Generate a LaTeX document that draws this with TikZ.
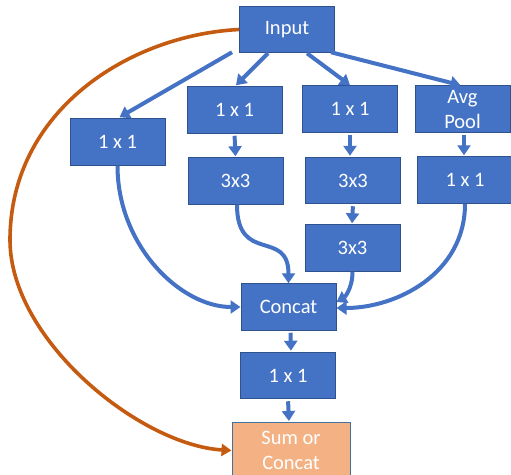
\documentclass[tikz,border=0pt]{standalone}
\usepackage{fontspec}
\setmainfont{Carlito}
\usetikzlibrary{arrows.meta,calc}
\definecolor{boxblue}{HTML}{4472C4}
\definecolor{boxedge}{HTML}{2F528F}
\definecolor{sumfill}{HTML}{F4B183}
\definecolor{sumedge}{HTML}{41719C}
\definecolor{skiporange}{HTML}{C55A11}
\begin{document}
\begin{tikzpicture}[x=1pt,y=1pt,
  blk/.style={rectangle, fill=boxblue, draw=boxedge, line width=1pt, text=white,
    minimum width=95pt, minimum height=46.5pt, inner sep=0pt, align=center,
    font=\fontsize{20.5}{25}\selectfont},
  sumblk/.style={blk, fill=sumfill, draw=sumedge, minimum width=118pt, minimum height=56pt},
  flow/.style={draw=boxblue, line width=4pt, -{Triangle[width=13pt,length=10pt]}},
  skip/.style={draw=skiporange, line width=3.6pt, -{Triangle[width=12pt,length=10pt]}}]
\useasboundingbox (0,0) rectangle (511,-474);
\clip (0,0) rectangle (511,-474);

\node[blk] (in) at (287,-29.5) {Input};
\node[blk] (a1) at (117.5,-142) {1 x 1};
\node[blk] (b1) at (234.5,-110) {1 x 1};
\node[blk] (b2) at (235.5,-181) {3x3};
\node[blk] (c1) at (350,-109) {1 x 1};
\node[blk] (c2) at (353,-180.5) {3x3};
\node[blk] (c3) at (352.5,-248) {3x3};
\node[blk] (d1) at (462.5,-109) {Avg\\Pool};
\node[blk] (d2) at (465,-180) {1 x 1};
\node[blk] (cc) at (288.5,-307) {Concat};
\node[blk] (e1) at (288,-375.5) {1 x 1};
\node[sumblk] (s) at (291,-450.5) {Sum or\\Concat};

% fan-out from Input
\draw[flow] ($(in.south west)+(-7,1)$) -- ($(a1.north)+(2,1)$);
\draw[flow] ($(in.south)+(-19,0)$) -- ($(b1.north)+(1.5,1)$);
\draw[flow] ($(in.south)+(20,0)$) -- (c1.north);
\draw[flow] ($(in.south east)+(-4,1)$) -- ($(d1.north)+(-2,0)$);

% short vertical arrows
\draw[flow, shorten <=2pt, shorten >=1pt] (b1.south) -- (b2.north);
\draw[flow, shorten <=2pt, shorten >=1pt] (c1.south) -- ($(c2.north)+(-3,0)$);
\draw[flow, shorten <=2pt, shorten >=1pt] (c2.south) -- ($(c3.north)+(-0.5,0)$);
\draw[flow, shorten <=2pt, shorten >=1pt] ($(d1.south)+(1.5,0)$) -- ($(d2.north)+(-1,0)$);
\draw[flow, shorten <=2pt, shorten >=1pt] ($(cc.south)+(2,0)$) -- ($(e1.north)+(3,0)$);
\draw[flow, shorten <=2pt, shorten >=1pt] (e1.south) -- ($(s.north)+(-2,0)$);

% curved merges into Concat
\draw[flow] (a1.south) .. controls +(0,-80) and +(-60,0) .. (cc.west);
\draw[flow] ($(b2.south)+(1.5,0)$) .. controls +(0,-60) and +(0,55) .. (cc.north);
\draw[flow] (c3.south) .. controls +(0,-18) and +(7,4) .. ($(cc.east)+(0,5)$);
\draw[flow] (d2.south) .. controls +(0,-70) and +(60,0) .. ($(cc.east)+(0,-1)$);

% skip connection
\coordinate (lm) at (10,-240);
\draw[skip] (in.west) .. controls (130,-35) and (10,-110) .. (lm)
  .. controls (10,-340) and (140,-445) .. (s.west);
\end{tikzpicture}
\end{document}
